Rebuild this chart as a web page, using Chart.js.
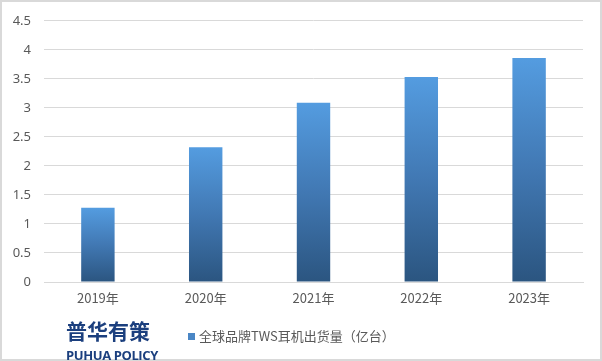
<!DOCTYPE html>
<html><head><meta charset="utf-8">
<script src="https://cdn.jsdelivr.net/npm/chart.js@4.4.1/dist/chart.umd.min.js"></script>
<style>
html,body{margin:0;padding:0;background:#fff;}
#wrap{position:relative;width:602px;height:361px;box-sizing:border-box;border:2px solid #d9d9d9;}
#c{position:absolute;left:-2px;top:-2px;}
#logo1{position:absolute;left:64px;top:315px;font:bold 21px "Noto Sans CJK SC";color:#1b3f7e;letter-spacing:0px;line-height:26px;}
#logo2{position:absolute;left:64px;top:346px;font:bold 13px "Open Sans";color:#1b3f7e;line-height:15px;letter-spacing:-0.4px;}
#leg{position:absolute;left:186px;top:325px;font:13px "Noto Sans CJK SC";color:#595959;line-height:18px;white-space:nowrap;}
#leg span{display:inline-block;width:7px;height:7px;background:#4a86c5;margin-right:4px;vertical-align:1px;}
</style></head><body>
<div id="wrap">
<canvas id="c" width="602" height="361"></canvas>
<div id="logo1">普华有策</div>
<div id="logo2">PUHUA POLICY</div>
<div id="leg"><span></span>全球品牌TWS耳机出货量（亿台）</div>
</div>
<script>
const categories = ["2019年","2020年","2021年","2022年","2023年"];
const shipments = [1.28, 2.32, 3.09, 3.53, 3.86];
const seriesName = "全球品牌TWS耳机出货量（亿台）";

function barGradient(ctx){
  const chart = ctx.chart;
  if(!chart.chartArea || ctx.type!=='data') return '#4a86c5';
  const y = chart.scales.y;
  const top = y.getPixelForValue(ctx.raw);
  const bot = y.getPixelForValue(0);
  const g = chart.ctx.createLinearGradient(0, top, 0, bot);
  g.addColorStop(0, '#549ce0');
  g.addColorStop(0.5, '#4178b3');
  g.addColorStop(1, '#2b5580');
  return g;
}

new Chart(document.getElementById('c'), {
  type: 'bar',
  data: { labels: categories, datasets: [{ label: seriesName, data: shipments, backgroundColor: barGradient, borderWidth: 0, categoryPercentage: 1, barPercentage: 0.31 }] },
  options: {
    responsive: false, animation: false,
    layout: { padding: { left: 0, right: 19, top: 18, bottom: 49 } },
    plugins: { legend: { display: false }, tooltip: { enabled: false } },
    scales: {
      x: {
        grid: { display: false, drawTicks: false },
        border: { color: '#d9d9d9', width: 1 },
        ticks: { color: '#595959', font: { family: 'Noto Sans CJK SC', size: 13 }, padding: 8 },
        afterFit: s => { s.height = 30; }
      },
      y: {
        min: 0, max: 4.5,
        grid: { color: '#d9d9d9', drawTicks: false },
        border: { display: false },
        ticks: { stepSize: 0.5, color: '#595959', font: { family: 'Noto Sans', size: 13 }, padding: 13, callback: v => String(v) },
        afterFit: s => { s.width = 44; }
      }
    }
  }
});
</script>
</body></html>
